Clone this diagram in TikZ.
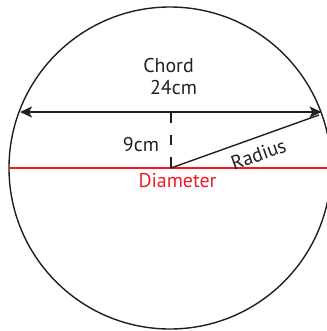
\documentclass[tikz,border=0pt]{standalone}
\usepackage{fontspec}
\setmainfont{PT Sans}
\usetikzlibrary{arrows.meta}
\definecolor{ink}{HTML}{231F20}
\definecolor{redline}{HTML}{ED1C24}
\tikzset{
  lbl/.style={inner sep=0pt, anchor=base, text=ink, font=\fontsize{20}{24}\selectfont},
  redlbl/.style={lbl, text=redline},
  shape line/.style={draw=ink, line width=1.4bp},
  arrowtip/.style={-{Stealth[length=12bp,width=11bp,inset=3bp]}},
}
\begin{document}
\begin{tikzpicture}[x=1bp,y=-1bp]
\useasboundingbox (0,0) rectangle (327,331);
\coordinate (O) at (170,168);
\coordinate (F) at (171,168);
\coordinate (L) at (20,112);
\coordinate (R) at (321.5,112);
\coordinate (T) at (171,112);
\coordinate (RE) at (319,115);
\coordinate (DL) at (9,168);
\coordinate (DR) at (331,168);
% circle
\draw[shape line] (O) circle[radius=161];
% diameter
\draw[redline, line width=1.2bp] (DL) -- (DR);
% dashed distance
\draw[shape line, dash pattern=on 10.5bp off 12bp] (T) -- (F);
% radius
\draw[shape line] (F) -- (RE);
% chord with arrows
\draw[shape line, arrowtip] (T) -- (L);
\draw[shape line, arrowtip] (T) -- (R);
% labels
\node[lbl] (chord) at (168.5,72) {Chord};
\node[lbl] (len) at (173.5,94) {24cm};
\node[lbl] (dist) at (141,151) {9cm};
\node[redlbl] (diam) at (177.5,187) {Diameter};
\node[lbl, anchor=center, rotate=20] (rad) at (258.5,154.5) {Radius};
\end{tikzpicture}
\end{document}
